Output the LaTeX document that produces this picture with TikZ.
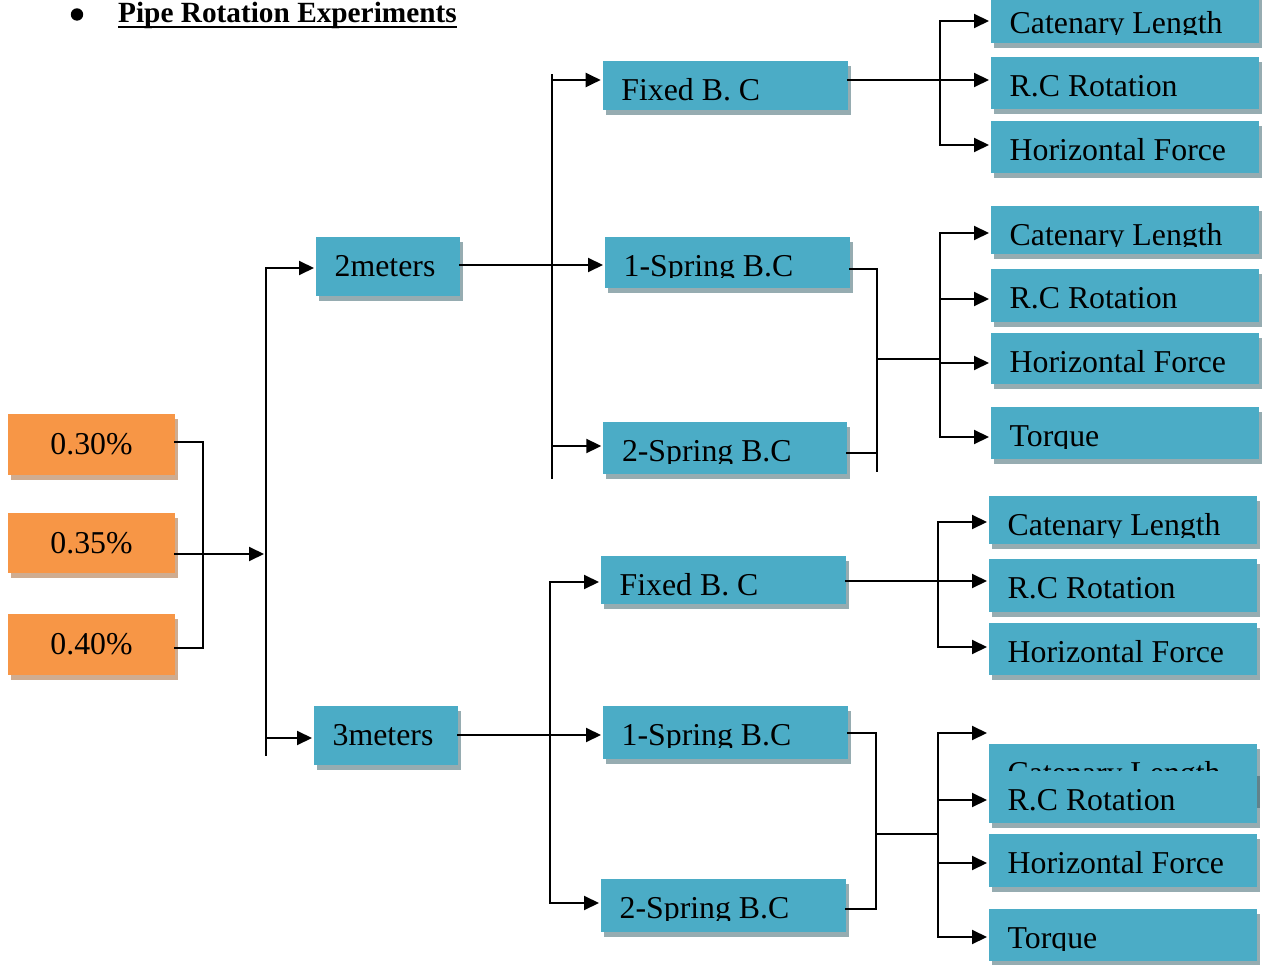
\documentclass[tikz,border=0pt]{standalone}
\usepackage{fontspec}
\setmainfont{Liberation Serif}
\usetikzlibrary{arrows.meta}

\definecolor{boxteal}{HTML}{4BACC6}
\definecolor{boxorange}{HTML}{F79646}
\definecolor{tealshadow}{HTML}{2E5963}
\definecolor{orangeshadow}{HTML}{A05A22}

% teal box with drop shadow; the label is cut just below its baseline
% #1 name, #2 left, #3 top, #4 right, #5 bottom, #6 label
\newcommand\tealbox[6]{%
  \fill[tealshade] ({#2+3},{#3+5}) rectangle ({#4+3},{#5+5});
  \node[boxbase, fill=boxteal, minimum width={((#4)-(#2))*1pt},
        minimum height={((#5)-(#3))*1pt}] (#1) at (#2,#3) {};
  \begin{scope}
    \clip (#2,#3) rectangle (#4,{#3+41});
    \node[lbl] (#1-label) at ({#2+18.5},{#3+39.5}) {#6};
  \end{scope}}

% orange box with drop shadow and centred label
\newcommand\orangebox[6]{%
  \fill[orangeshade] ({#2+3},{#3+5}) rectangle ({#4+3},{#5+5});
  \node[boxbase, fill=boxorange, minimum width={((#4)-(#2))*1pt},
        minimum height={((#5)-(#3))*1pt}] (#1) at (#2,#3) {};
  \node[lbl, anchor=base] (#1-label) at ({((#2)+(#4))/2},{#3+40}) {#6};}

\begin{document}
\begin{tikzpicture}[x=1pt, y=-1pt,
  boxbase/.style={draw=none, inner sep=0pt, outer sep=0pt, anchor=north west},
  tealshade/.style={fill=tealshadow, fill opacity=0.5},
  orangeshade/.style={fill=orangeshadow, fill opacity=0.5},
  lbl/.style={font=\fontsize{31.8}{36}\selectfont, inner sep=0pt, anchor=base west, text=black},
  conn/.style={draw=black, line width=2pt, line cap=rect},
  arr/.style={conn, shorten >=2pt, -{Triangle[length=15pt,width=14pt]}}]

\useasboundingbox (0,0) rectangle (1264,965);
\clip (0,0) rectangle (1264,965);

% heading
\node[circle, fill=black, inner sep=0pt, minimum size=12.4pt] (bullet) at (77,14.5) {};
\node[font=\fontsize{29.3}{34}\selectfont\bfseries, inner sep=0pt, anchor=base west]
  (title) at (118,22.7) {Pipe Rotation Experiments};
\draw[line width=2pt] ([yshift=-4pt]title.base west) -- ([yshift=-4pt]title.base east);

% slopes
\orangebox{o1}{8}{414}{175}{475}{0.30\%}
\orangebox{o2}{8}{513.3}{175}{573.3}{0.35\%}
\orangebox{o3}{8}{614}{175}{675}{0.40\%}

% pipe lengths
\tealbox{m2}{316}{236.7}{460}{295.7}{2meters}
\tealbox{m3}{314}{706}{458}{765}{3meters}

% boundary conditions
\tealbox{f1}{602.7}{61}{848}{110}{Fixed B. C}
\tealbox{s1a}{605}{236.7}{850}{288.3}{1-Spring B.C}
\tealbox{s2a}{603.3}{422.3}{847.3}{474}{2-Spring B.C}
\tealbox{f2}{601}{556}{846}{604.3}{Fixed B. C}
\tealbox{s1b}{603}{706}{848.3}{759}{1-Spring B.C}
\tealbox{s2b}{601}{879}{846}{931.7}{2-Spring B.C}

% measured quantities
\tealbox{c1}{991}{-6}{1259}{42.7}{Catenary Length}
\tealbox{r1}{991}{57.3}{1259}{109.3}{R.C Rotation}
\tealbox{h1}{991}{121}{1259}{172.7}{Horizontal Force}
\tealbox{c2}{991}{206}{1259}{254.3}{Catenary Length}
\tealbox{r2}{991}{269.3}{1259}{321.7}{R.C Rotation}
\tealbox{h2}{991}{333.3}{1259}{384.3}{Horizontal Force}
\tealbox{t2}{991}{407.3}{1259}{459.3}{Torque}
\tealbox{c3}{989}{496}{1256.7}{544.3}{Catenary Length}
\tealbox{r3}{989}{559.3}{1256.7}{611.7}{R.C Rotation}
\tealbox{h3}{989}{623.3}{1256.7}{675}{Horizontal Force}
\tealbox{c4}{989}{744.3}{1256.7}{803}{Catenary Length}
\tealbox{r4}{989}{771}{1256.7}{822.7}{R.C Rotation}
\tealbox{h4}{989}{834.3}{1256.7}{886.7}{Horizontal Force}
\tealbox{t4}{989}{909.3}{1256.7}{960.7}{Torque}

% slopes -> lengths
\coordinate (p1) at (203,442);
\coordinate (p2) at (266,554);
\coordinate (p3) at (203,648);
\draw[conn] (o1.east |- p1) -- (p1) -- (p3) -- (o3.east |- p3);
\draw[arr] (o2.east |- p2) -- (p2);
\coordinate (a1) at (266,268);
\coordinate (a2) at (266,738);
\coordinate (a3) at (266,755);
\draw[conn] (a3) -- (a1);
\draw[arr] (a1) -- (m2.west |- a1);
\draw[arr] (a2) -- (m3.west |- a2);

% 2 m -> boundary conditions
\coordinate (b0) at (552,75);
\coordinate (b1) at (552,80);
\coordinate (b2) at (552,265);
\coordinate (b3) at (552,446);
\coordinate (b4) at (552,478);
\draw[conn] (b0) -- (b4);
\draw[arr] (b1) -- (f1.west |- b1);
\draw[arr] (m2.east |- b2) -- (s1a.west |- b2);
\draw[arr] (b3) -- (s2a.west |- b3);

% 3 m -> boundary conditions
\coordinate (d1) at (550,582);
\coordinate (d2) at (550,735);
\coordinate (d3) at (550,903);
\draw[conn] (d1) -- (d3);
\draw[arr] (d1) -- (f2.west |- d1);
\draw[arr] (m3.east |- d2) -- (s1b.west |- d2);
\draw[arr] (d3) -- (s2b.west |- d3);

% fixed (2 m) -> quantities
\coordinate (e0) at (940,21);
\coordinate (e1) at (940,80);
\coordinate (e2) at (940,145);
\draw[conn] (e0) -- (e2);
\draw[arr] (e0) -- (c1.west |- e0);
\draw[arr] (f1.east |- e1) -- (r1.west |- e1);
\draw[arr] (e2) -- (h1.west |- e2);

% springs (2 m) -> quantities
\coordinate (g1) at (877,269);
\coordinate (g2) at (877,453);
\coordinate (g3) at (877,471);
\coordinate (gm) at (877,359);
\draw[conn] (s1a.east |- g1) -- (g1) -- (g3);
\draw[conn] (s2a.east |- g2) -- (g2);
\coordinate (k0) at (940,233);
\coordinate (k1) at (940,299);
\coordinate (k2) at (940,363);
\coordinate (k3) at (940,437);
\coordinate (km) at (940,359);
\draw[conn] (gm) -- (km);
\draw[conn] (k0) -- (k3);
\draw[arr] (k0) -- (c2.west |- k0);
\draw[arr] (k1) -- (r2.west |- k1);
\draw[arr] (k2) -- (h2.west |- k2);
\draw[arr] (k3) -- (t2.west |- k3);

% fixed (3 m) -> quantities
\coordinate (n0) at (938,522);
\coordinate (n1) at (938,581);
\coordinate (n2) at (938,647);
\draw[conn] (n0) -- (n2);
\draw[arr] (n0) -- (c3.west |- n0);
\draw[arr] (f2.east |- n1) -- (r3.west |- n1);
\draw[arr] (n2) -- (h3.west |- n2);

% springs (3 m) -> quantities
\coordinate (u1) at (876,733);
\coordinate (u2) at (876,909);
\coordinate (um) at (876,834);
\draw[conn] (s1b.east |- u1) -- (u1) -- (u2) -- (s2b.east |- u2);
\coordinate (w0) at (938,733);
\coordinate (w1) at (938,800);
\coordinate (w2) at (938,863);
\coordinate (w3) at (938,937);
\coordinate (wm) at (938,834);
\draw[conn] (um) -- (wm);
\draw[conn] (w0) -- (w3);
\draw[arr] (w0) -- (c4.west |- w0);
\draw[arr] (w1) -- (r4.west |- w1);
\draw[arr] (w2) -- (h4.west |- w2);
\draw[arr] (w3) -- (t4.west |- w3);
\end{tikzpicture}
\end{document}
